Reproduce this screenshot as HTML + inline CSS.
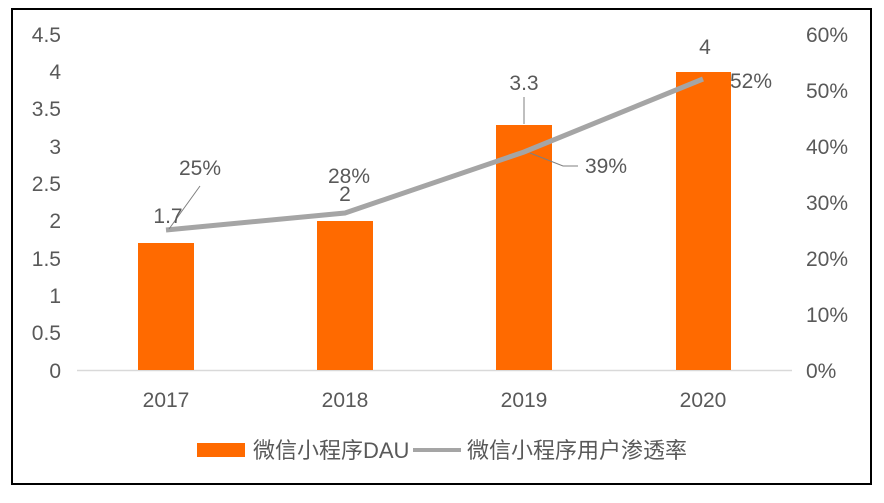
<!DOCTYPE html>
<html><head><meta charset="utf-8"><style>
body{margin:0;background:#fff;}
svg text{font-family:"Liberation Sans","Noto Sans CJK SC",sans-serif;fill:#595959;font-size:21px;}
</style></head><body>
<svg width="884" height="498" xmlns="http://www.w3.org/2000/svg">
<rect x="0" y="0" width="884" height="498" fill="#fff"/>
<rect x="12" y="9" width="859" height="475" fill="none" stroke="#000" stroke-width="2"/>
<line x1="77" y1="370.5" x2="792" y2="370.5" stroke="#d9d9d9" stroke-width="1.5"/>
<g text-anchor="end">
<text x="61" y="378">0</text><text x="61" y="340">0.5</text><text x="61" y="303">1</text>
<text x="61" y="266">1.5</text><text x="61" y="228">2</text><text x="61" y="191">2.5</text>
<text x="61" y="154">3</text><text x="61" y="116">3.5</text><text x="61" y="79">4</text><text x="61" y="42">4.5</text>
</g>
<g>
<text x="806" y="378">0%</text><text x="806" y="322">10%</text><text x="806" y="266">20%</text>
<text x="806" y="210">30%</text><text x="806" y="154">40%</text><text x="806" y="98">50%</text><text x="806" y="42">60%</text>
</g>
<g text-anchor="middle">
<text x="166" y="407">2017</text><text x="345" y="407">2018</text><text x="524" y="407">2019</text><text x="703" y="407">2020</text>
</g>
<g fill="#ff6a00">
<rect x="138" y="243" width="56" height="127"/>
<rect x="317" y="221" width="56" height="149"/>
<rect x="496" y="125" width="56" height="245"/>
<rect x="676" y="72" width="55" height="298"/>
</g>
<polyline points="166,230 345,213 524,152 703,79" fill="none" stroke="#a5a5a5" stroke-width="5"/>
<g stroke="#7f7f7f" stroke-width="1" fill="none">
<line x1="200" y1="186" x2="169" y2="229"/>
<line x1="524" y1="97" x2="524" y2="124"/>
<polyline points="530,153 563,166 578,166"/>
</g>
<g text-anchor="middle">
<text x="200" y="175">25%</text><text x="168" y="223">1.7</text>
<text x="349" y="183">28%</text><text x="345" y="201">2</text>
<text x="524" y="90">3.3</text><text x="606" y="173">39%</text>
<text x="705" y="54">4</text><text x="751" y="88">52%</text>
</g>
<rect x="197" y="443" width="48" height="14" fill="#ff6a00"/>
<text x="253" y="458" style="font-size:22px">微信小程序DAU</text>
<line x1="413" y1="450" x2="461" y2="450" stroke="#a5a5a5" stroke-width="4"/>
<text x="467" y="458" style="font-size:22px">微信小程序用户渗透率</text>
</svg>
</body></html>
